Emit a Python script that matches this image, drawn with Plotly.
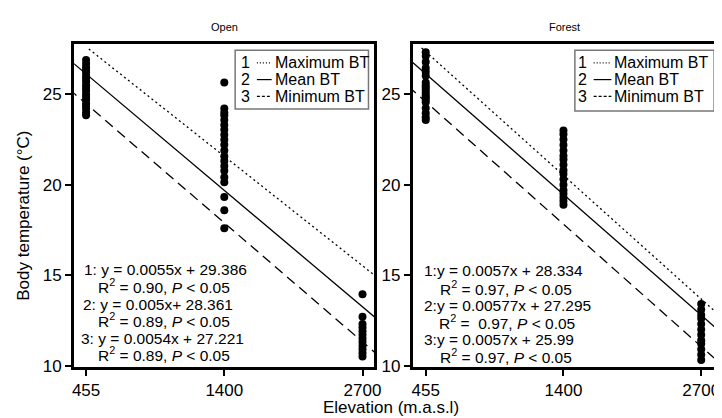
import plotly.graph_objects as go

W, H = 722, 418

categories = ["455", "1400", "2700"]

# Body temperature points (°C) per elevation
open_455 = [26.9, 26.7, 26.5, 26.35, 26.2, 26.0, 25.85, 25.7, 25.5, 25.35, 25.2, 25.0, 24.85, 24.7, 24.5, 24.35, 24.2, 24.0, 23.85]
open_1400 = [25.66, 24.22, 24.0, 23.85, 23.58, 23.3, 23.04, 22.76, 22.49, 22.22, 21.9, 21.58, 21.31, 21.04, 20.77, 20.41, 20.14, 19.32, 18.59, 17.6]
open_2700 = [13.95, 12.7, 12.3, 12.1, 11.9, 11.7, 11.5, 11.3, 11.1, 10.9, 10.7, 10.5]

forest_455 = [27.33, 27.12, 26.79, 26.46, 26.25, 26.03, 25.65, 25.5, 25.38, 25.25, 25.1, 24.95, 24.83, 24.7, 24.56, 24.23, 23.96, 23.74, 23.58]
forest_1400 = [23.0, 22.8, 22.5, 22.2, 21.9, 21.6, 21.4, 21.1, 20.8, 20.6, 20.3, 20.0, 19.7, 19.5, 19.3, 19.1, 18.9]
forest_2700 = [13.4, 13.1, 12.8, 12.6, 12.3, 12.0, 11.7, 11.4, 11.2, 10.9, 10.6, 10.3]

# Fitted lines: value at elevation 455 and at 2700 (as drawn)
open_max = [27.63, 15.52]
open_mean = [26.13, 13.25]
open_min = [24.48, 11.31]
forest_max = [27.36, 13.68]
forest_mean = [26.13, 12.79]
forest_min = [24.59, 11.05]

open_eq = ["1: y = 0.0055x + 29.386", "R<sup>2</sup> = 0.90, <i>P</i> &lt; 0.05",
           "2: y = 0.005x+ 28.361", "R<sup>2</sup> = 0.89, <i>P</i> &lt; 0.05",
           "3: y = 0.0054x + 27.221", "R<sup>2</sup> = 0.89, <i>P</i> &lt; 0.05"]
forest_eq = ["1:y = 0.0057x + 28.334", "R<sup>2</sup> = 0.97, <i>P</i> &lt; 0.05",
             "2:y = 0.00577x + 27.295", "R<sup>2</sup> =  0.97, <i>P</i> &lt; 0.05",
             "3:y = 0.0057x + 25.99", "R<sup>2</sup> = 0.97, <i>P</i> &lt; 0.05"]
legend_names = ["Maximum BT", "Mean BT", "Minimum BT"]

FONT = "Liberation Sans, Arial, sans-serif"
DOT = "2px,3px"
DASH = "10px,6px"
styles = [DOT, "solid", DASH]

def px_x(p):
    return p / W

def px_y(p):
    return 1 - p / H

fig = go.Figure()

def add_panel(xa, ya, cols, lines, starts):
    for i, vals in enumerate(cols):
        fig.add_trace(go.Scatter(x=[i] * len(vals), y=vals, mode="markers",
                                 marker=dict(color="black", size=8),
                                 xaxis=xa, yaxis=ya, showlegend=False, hoverinfo="skip"))
    for (y0, y2), dash, xs in zip(lines, styles, starts):
        slope = (y2 - y0) / 2
        xe = 2.3
        fig.add_trace(go.Scatter(x=[xs, xe], y=[y0 + slope * xs, y0 + slope * xe], mode="lines",
                                 line=dict(color="black", width=1.3, dash=dash),
                                 xaxis=xa, yaxis=ya, showlegend=False, hoverinfo="skip"))

add_panel("x", "y", [open_455, open_1400, open_2700], [open_max, open_mean, open_min], [0.02, -0.3, -0.3])
add_panel("x2", "y2", [forest_455, forest_1400, forest_2700], [forest_max, forest_mean, forest_min], [-0.03, -0.3, -0.3])

axis_common = dict(showline=True, mirror=True, linewidth=3, linecolor="black",
                   showgrid=False, zeroline=False, ticks="outside", ticklen=6, tickwidth=2,
                   tickcolor="black", tickfont=dict(family=FONT, size=17, color="black"))
ydom = [px_y(366), px_y(37)]
yrange = [9.92, 27.77]

fig.update_layout(
    width=W, height=H, margin=dict(l=0, r=0, t=0, b=0),
    paper_bgcolor="white", plot_bgcolor="white", showlegend=False,
    xaxis=dict(domain=[px_x(65), px_x(369)], range=[-0.086, 2.086],
               tickvals=[0, 1, 2], ticktext=categories, **axis_common),
    xaxis2=dict(domain=[px_x(408), px_x(715)], range=[-0.093, 2.108],
                tickvals=[0, 1, 2], ticktext=categories, **axis_common),
    yaxis=dict(domain=ydom, range=yrange, tickvals=[10, 15, 20, 25], anchor="x", **axis_common),
    yaxis2=dict(domain=ydom, range=yrange, tickvals=[10, 15, 20, 25], anchor="x2", **axis_common),
)

ann = []
shapes = []

def text(x, y, s, size=16, xanchor="left", angle=0):
    ann.append(dict(x=px_x(x), y=px_y(y), xref="paper", yref="paper", text=s, showarrow=False,
                    xanchor=xanchor, yanchor="middle", textangle=angle,
                    font=dict(family=FONT, size=size, color="black")))

# Panel titles
text(217, 19, "Open", size=11, xanchor="center")
text(562, 19, "Forest", size=11, xanchor="center")
# Axis titles
text(14, 212, "Body temperature (°C)", size=17, xanchor="center", angle=-90)
text(386, 407, "Elevation (m.a.s.l)", size=17, xanchor="center")

# Equations
open_pos = [(73, 267), (87, 283), (72, 302), (87, 318), (70, 337), (87, 353)]
forest_pos = [(417, 268), (433, 285), (417, 303), (432, 320), (417, 338), (433, 355)]
for s, (x, y) in zip(open_eq, open_pos):
    text(x, y, s, size=15.5)
for s, (x, y) in zip(forest_eq, forest_pos):
    text(x, y, s, size=15.5)

# Custom legends
def legend(x0, x1, y0, y1, rows, numx, s0, s1, tx):
    shapes.append(dict(type="rect", xref="paper", yref="paper", x0=px_x(x0), x1=px_x(x1),
                       y0=px_y(y1), y1=px_y(y0), line=dict(color="#777777", width=1.5),
                       fillcolor="white", layer="above"))
    for k, (ry, name, dash) in enumerate(zip(rows, legend_names, styles)):
        text(numx, ry, str(k + 1), size=16, xanchor="center")
        shapes.append(dict(type="line", xref="paper", yref="paper", x0=px_x(s0), x1=px_x(s1),
                           y0=px_y(ry), y1=px_y(ry), line=dict(color="black", width=1.2,
                           dash="1px,2px" if dash == DOT else ("3px,2px" if dash == DASH else "solid")),
                           layer="above"))
        text(tx, ry, name, size=16)

legend(228, 363, 43, 103, [56, 73, 90], 238, 250, 265, 266)
legend(572, 713, 43, 105, [56, 73, 90], 580, 591, 609, 610)

fig.update_layout(annotations=ann, shapes=shapes)
fig.write_html("out.html")
